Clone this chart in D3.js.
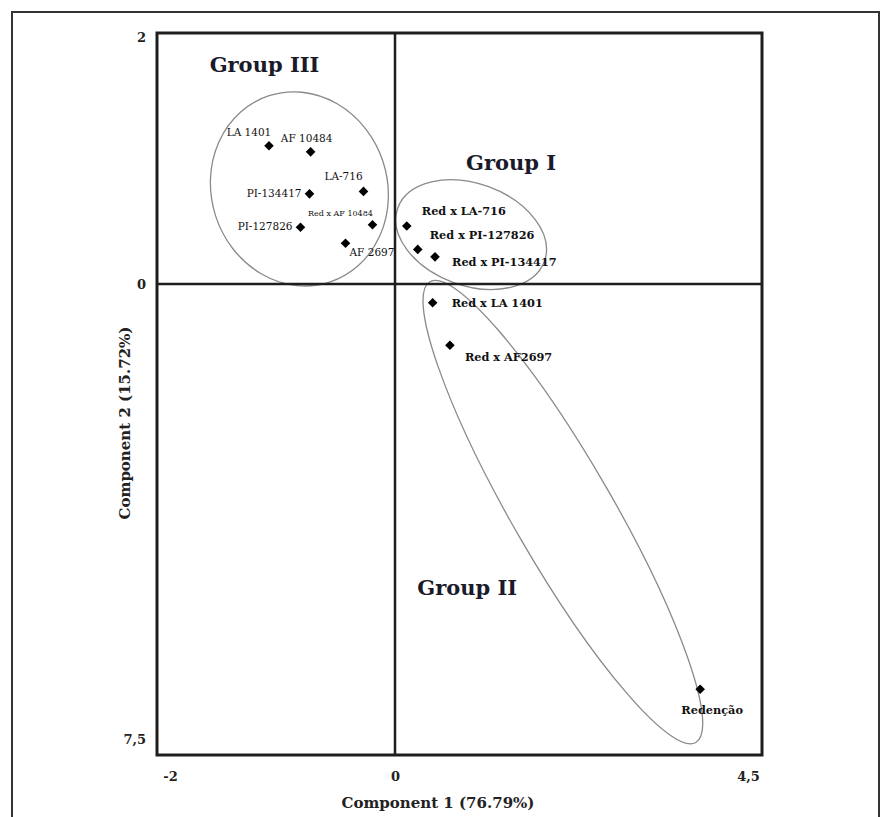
<!DOCTYPE html>
<html>
<head>
<meta charset="utf-8">
<script src="https://cdn.jsdelivr.net/npm/d3@7"></script>
<style>
  body { margin: 0; background: #fff; }
</style>
</head>
<body>
<div id="grafico"></div>
<script>

// valores (componente 1 y 2)
var nombres = ["LA 1401", "AF 10484", "LA-716", "PI-134417", "Red x AF 10484", "PI-127826", "AF 2697",
    "Red x LA-716", "Red x PI-127826", "Red x PI-134417", "Red x LA 1401", "Red x AF2697", "Redenção"];
var componente1 = [-1.12, -0.75, -0.28, -0.76, -0.20, -0.84, -0.44, 0.15, 0.29, 0.51, 0.48, 0.70, 3.89];
var componente2 = [1.12, 1.07, 0.75, 0.73, 0.48, 0.46, 0.33, 0.47, 0.28, 0.22, -0.31, -1.01, -6.68];

var ticksX = [-2, 0, 4.5];
var etiquetasX = ["-2", "0", "4,5"];
var ticksY = [2, 0, -7.5];
var etiquetasY = ["2", "0", "7,5"];

var grupos = ["Group III", "Group I", "Group II"];

var tituloX = "Component 1 (76.79%)";
var tituloY = "Component 2 (15.72%)";

// colocacion de los textos y elipses
var posGrupos = [[-1.16, 1.72], [1.48, 0.92], [0.92, -5.13]];
var elipses = [
    { cx: -0.85, cy: 0.77, rx: 88, ry: 98, rot: -18 },
    { cx: 0.97, cy: 0.40, rx: 78, ry: 51, rot: 20 },
    { cx: 2.14, cy: -3.76, rx: 266, ry: 50, rot: 60 }
];
// dx, dy, anclaje, tamaño, negrita
var posEtiquetas = {
    "LA 1401": [-20, -10, "middle", 10.5, false],
    "AF 10484": [-4, -10, "middle", 10.5, false],
    "LA-716": [-20, -11, "middle", 10.5, false],
    "PI-134417": [-8, 3, "end", 10.5, false],
    "Red x AF 10484": [-32, -9, "middle", 8, false],
    "PI-127826": [-8, 3, "end", 10.5, false],
    "AF 2697": [4, 13, "start", 10.5, false],
    "Red x LA-716": [15, -11, "start", 11.3, true],
    "Red x PI-127826": [12, -10, "start", 11.3, true],
    "Red x PI-134417": [17, 9, "start", 11.3, true],
    "Red x LA 1401": [19, 4, "start", 11.3, true],
    "Red x AF2697": [15, 16, "start", 11.3, true],
    "Redenção": [12, 25, "middle", 11.3, true]
};

var ancho = 885, alto = 817;
var marco = { izq: 157, der: 762, arr: 33, aba: 755 };
var fuente = "'DejaVu Serif', 'Liberation Serif', serif";
var tinta = "#1e1e1e";

var svg = d3.select("#grafico").append("svg")
    .attr("width", ancho)
    .attr("height", alto)
    .style("display", "block");

var x = d3.scaleLinear().domain([-2, 0, 4.5]).range([170, 395, 748]);
var y = d3.scaleLinear().domain([2, 0, -7.5]).range([37, 284, 739]);

// borde exterior
svg.append("rect")
    .attr("x", 12)
    .attr("y", 12)
    .attr("width", 867)
    .attr("height", 830)
    .attr("fill", "none")
    .attr("stroke", "#333")
    .attr("stroke-width", 2);

var puntos = nombres.map(function (n, i) {
    return { nombre: n, c1: componente1[i], c2: componente2[i] };
});

// elipses de los grupos
svg.selectAll(".elipse")
    .data(elipses)
    .enter().append("ellipse")
    .attr("class", "elipse")
    .attr("transform", function (d) {
        return "translate(" + x(d.cx) + "," + y(d.cy) + ") rotate(" + d.rot + ")";
    })
    .attr("rx", function (d) { return d.rx; })
    .attr("ry", function (d) { return d.ry; })
    .attr("fill", "none")
    .attr("stroke", "#8a8a8a")
    .attr("stroke-width", 1.3);

// marco y ejes en cero
svg.append("rect")
    .attr("x", marco.izq)
    .attr("y", marco.arr)
    .attr("width", marco.der - marco.izq)
    .attr("height", marco.aba - marco.arr)
    .attr("fill", "none")
    .attr("stroke", tinta)
    .attr("stroke-width", 3);

svg.append("line")
    .attr("x1", x(0)).attr("x2", x(0))
    .attr("y1", marco.arr).attr("y2", marco.aba)
    .attr("stroke", tinta)
    .attr("stroke-width", 2.5);

svg.append("line")
    .attr("x1", marco.izq).attr("x2", marco.der)
    .attr("y1", y(0)).attr("y2", y(0))
    .attr("stroke", tinta)
    .attr("stroke-width", 2.5);

// puntos
var simbolo = d3.symbol().type(d3.symbolSquare).size(46);

svg.selectAll(".punto")
    .data(puntos)
    .enter().append("path")
    .attr("class", "punto")
    .attr("d", simbolo)
    .attr("transform", function (d) {
        return "translate(" + x(d.c1) + "," + y(d.c2) + ") rotate(45)";
    })
    .attr("fill", "#000");

svg.selectAll(".etiqueta")
    .data(puntos)
    .enter().append("text")
    .attr("class", "etiqueta")
    .attr("x", function (d) { return x(d.c1) + posEtiquetas[d.nombre][0]; })
    .attr("y", function (d) { return y(d.c2) + posEtiquetas[d.nombre][1]; })
    .attr("text-anchor", function (d) { return posEtiquetas[d.nombre][2]; })
    .attr("font-size", function (d) { return posEtiquetas[d.nombre][3]; })
    .attr("font-weight", function (d) { return posEtiquetas[d.nombre][4] ? "bold" : "normal"; })
    .attr("font-family", fuente)
    .attr("fill", "#111")
    .text(function (d) { return d.nombre; });

// nombres de los grupos
svg.selectAll(".grupo")
    .data(grupos)
    .enter().append("text")
    .attr("class", "grupo")
    .attr("x", function (d, i) { return x(posGrupos[i][0]); })
    .attr("y", function (d, i) { return y(posGrupos[i][1]); })
    .attr("text-anchor", "middle")
    .attr("font-family", fuente)
    .attr("font-weight", "bold")
    .attr("font-size", 21)
    .attr("fill", "#1a1a2a")
    .text(function (d) { return d; });

// marcas de los ejes
var ejeX = d3.axisBottom(x)
    .tickValues(ticksX)
    .tickFormat(function (d, i) { return etiquetasX[i]; })
    .tickSize(0)
    .tickPadding(0);

var ejeY = d3.axisLeft(y)
    .tickValues(ticksY)
    .tickFormat(function (d, i) { return etiquetasY[i]; })
    .tickSize(0)
    .tickPadding(0);

var gx = svg.append("g")
    .attr("transform", "translate(0,772)")
    .call(ejeX);
var gy = svg.append("g")
    .attr("transform", "translate(146,0)")
    .call(ejeY);

[gx, gy].forEach(function (g) {
    g.select(".domain").remove();
    g.selectAll("text")
        .attr("font-family", fuente)
        .attr("font-weight", "bold")
        .attr("font-size", 13)
        .attr("fill", "#222");
});

// titulos
svg.append("text")
    .attr("x", 438)
    .attr("y", 808)
    .attr("text-anchor", "middle")
    .attr("font-family", fuente)
    .attr("font-weight", "bold")
    .attr("font-size", 15)
    .attr("fill", "#222")
    .text(tituloX);

svg.append("text")
    .attr("transform", "translate(130,423) rotate(-90)")
    .attr("text-anchor", "middle")
    .attr("font-family", fuente)
    .attr("font-weight", "bold")
    .attr("font-size", 15)
    .attr("fill", "#222")
    .text(tituloY);

</script>
</body>
</html>
